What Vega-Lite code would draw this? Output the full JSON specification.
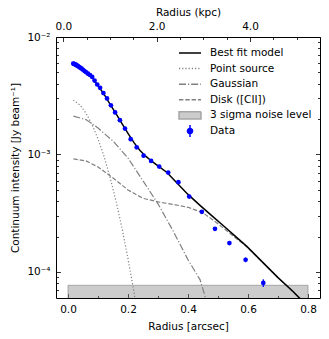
{
  "$schema": "https://vega.github.io/schema/vega-lite/v6.json",
  "width": 264,
  "height": 261,
  "autosize": "none",
  "padding": {"left": 56, "top": 37, "right": 9, "bottom": 41},
  "background": "white",
  "config": {
    "font": "DejaVu Sans",
    "view": {"stroke": "black", "strokeWidth": 1},
    "axis": {"domain": false, "grid": false, "labelFont": "DejaVu Sans", "labelFontSize": 10.5, "labelColor": "black", "titleFont": "DejaVu Sans", "titleFontSize": 10.5, "titleFontWeight": "normal", "titleColor": "black", "tickColor": "black", "tickWidth": 0.8, "labelOverlap": false, "labelBound": false, "labelFlush": false},
    "legend": {"orient": "none", "legendX": 122, "legendY": 10, "symbolSize": 484, "symbolStrokeWidth": 1.5, "labelFont": "DejaVu Sans", "labelFontSize": 10.5, "labelColor": "black", "labelOffset": 8, "rowPadding": 3.6, "padding": 0, "clipHeight": 12}
  },
  "datasets": {
    "noise": [{"r": 0, "r2": 0.8, "I": 1e-5, "I2": 7.7e-5}],
    "legendrows": [
      {"series": "Best fit model", "r": -1, "I": 0.001},
      {"series": "Point source", "r": -1, "I": 0.001},
      {"series": "Gaussian", "r": -1, "I": 0.001},
      {"series": "Disk ([CII])", "r": -1, "I": 0.001},
      {"series": "3 sigma noise level", "r": -1, "I": 0.001},
      {"series": "Data", "r": -1, "I": 0.001}
    ],
    "pts": [
      {"r": 0.0175, "I": 5.94e-3, "lo": 5.934e-3, "hi": 5.946e-3},
      {"r": 0.0193, "I": 5.92e-3, "lo": 5.914e-3, "hi": 5.926e-3},
      {"r": 0.0212, "I": 5.89e-3, "lo": 5.884e-3, "hi": 5.896e-3},
      {"r": 0.0233, "I": 5.85e-3, "lo": 5.844e-3, "hi": 5.856e-3},
      {"r": 0.0257, "I": 5.81e-3, "lo": 5.804e-3, "hi": 5.816e-3},
      {"r": 0.0283, "I": 5.75e-3, "lo": 5.744e-3, "hi": 5.756e-3},
      {"r": 0.031, "I": 5.70e-3, "lo": 5.694e-3, "hi": 5.706e-3},
      {"r": 0.0342, "I": 5.63e-3, "lo": 5.624e-3, "hi": 5.636e-3},
      {"r": 0.0376, "I": 5.55e-3, "lo": 5.544e-3, "hi": 5.556e-3},
      {"r": 0.0414, "I": 5.46e-3, "lo": 5.454e-3, "hi": 5.466e-3},
      {"r": 0.0455, "I": 5.37e-3, "lo": 5.364e-3, "hi": 5.376e-3},
      {"r": 0.05, "I": 5.26e-3, "lo": 5.254e-3, "hi": 5.266e-3},
      {"r": 0.055, "I": 5.13e-3, "lo": 5.124e-3, "hi": 5.136e-3},
      {"r": 0.0605, "I": 5.01e-3, "lo": 5.004e-3, "hi": 5.016e-3},
      {"r": 0.0666, "I": 4.87e-3, "lo": 4.864e-3, "hi": 4.876e-3},
      {"r": 0.0733, "I": 4.75e-3, "lo": 4.744e-3, "hi": 4.756e-3},
      {"r": 0.0806, "I": 4.57e-3, "lo": 4.564e-3, "hi": 4.576e-3},
      {"r": 0.0886, "I": 4.26e-3, "lo": 4.254e-3, "hi": 4.266e-3},
      {"r": 0.0975, "I": 3.94e-3, "lo": 3.934e-3, "hi": 3.946e-3},
      {"r": 0.107, "I": 3.69e-3, "lo": 3.684e-3, "hi": 3.696e-3},
      {"r": 0.118, "I": 3.33e-3, "lo": 3.324e-3, "hi": 3.336e-3},
      {"r": 0.13, "I": 3.00e-3, "lo": 2.994e-3, "hi": 3.006e-3},
      {"r": 0.143, "I": 2.62e-3, "lo": 2.614e-3, "hi": 2.626e-3},
      {"r": 0.157, "I": 2.28e-3, "lo": 2.274e-3, "hi": 2.286e-3},
      {"r": 0.173, "I": 1.96e-3, "lo": 1.954e-3, "hi": 1.966e-3},
      {"r": 0.19, "I": 1.66e-3, "lo": 1.654e-3, "hi": 1.666e-3},
      {"r": 0.209, "I": 1.35e-3, "lo": 1.344e-3, "hi": 1.356e-3},
      {"r": 0.229, "I": 1.15e-3, "lo": 1.144e-3, "hi": 1.156e-3},
      {"r": 0.252, "I": 9.77e-4, "lo": 9.71e-4, "hi": 9.83e-4},
      {"r": 0.277, "I": 8.81e-4, "lo": 8.75e-4, "hi": 8.87e-4},
      {"r": 0.304, "I": 7.88e-4, "lo": 7.82e-4, "hi": 7.94e-4},
      {"r": 0.334, "I": 7.01e-4, "lo": 6.95e-4, "hi": 7.07e-4},
      {"r": 0.368, "I": 5.81e-4, "lo": 5.75e-4, "hi": 5.87e-4},
      {"r": 0.404, "I": 4.38e-4, "lo": 4.32e-4, "hi": 4.44e-4},
      {"r": 0.446, "I": 3.25e-4, "lo": 3.19e-4, "hi": 3.31e-4},
      {"r": 0.49, "I": 2.33e-4, "lo": 2.27e-4, "hi": 2.39e-4},
      {"r": 0.538, "I": 1.76e-4, "lo": 1.70e-4, "hi": 1.82e-4},
      {"r": 0.592, "I": 1.27e-4, "lo": 1.21e-4, "hi": 1.33e-4},
      {"r": 0.651, "I": 8.06e-5, "lo": 7.46e-5, "hi": 8.66e-5}
    ],
    "curves": [
      {"series": "Best fit model", "r": 0.018, "I": 5.94e-3},
      {"series": "Best fit model", "r": 0.04, "I": 5.51e-3},
      {"series": "Best fit model", "r": 0.06, "I": 5.02e-3},
      {"series": "Best fit model", "r": 0.08, "I": 4.55e-3},
      {"series": "Best fit model", "r": 0.1, "I": 3.85e-3},
      {"series": "Best fit model", "r": 0.12, "I": 3.26e-3},
      {"series": "Best fit model", "r": 0.14, "I": 2.68e-3},
      {"series": "Best fit model", "r": 0.16, "I": 2.23e-3},
      {"series": "Best fit model", "r": 0.18, "I": 1.83e-3},
      {"series": "Best fit model", "r": 0.2, "I": 1.51e-3},
      {"series": "Best fit model", "r": 0.22, "I": 1.26e-3},
      {"series": "Best fit model", "r": 0.24, "I": 1.081e-3},
      {"series": "Best fit model", "r": 0.26, "I": 9.62e-4},
      {"series": "Best fit model", "r": 0.28, "I": 8.72e-4},
      {"series": "Best fit model", "r": 0.3, "I": 7.99e-4},
      {"series": "Best fit model", "r": 0.33, "I": 7.03e-4},
      {"series": "Best fit model", "r": 0.36, "I": 5.84e-4},
      {"series": "Best fit model", "r": 0.4, "I": 4.57e-4},
      {"series": "Best fit model", "r": 0.44, "I": 3.69e-4},
      {"series": "Best fit model", "r": 0.48, "I": 3.00e-4},
      {"series": "Best fit model", "r": 0.52, "I": 2.45e-4},
      {"series": "Best fit model", "r": 0.56, "I": 1.99e-4},
      {"series": "Best fit model", "r": 0.596, "I": 1.65e-4},
      {"series": "Best fit model", "r": 0.65, "I": 1.20e-4},
      {"series": "Best fit model", "r": 0.7, "I": 8.95e-5},
      {"series": "Best fit model", "r": 0.75, "I": 6.81e-5},
      {"series": "Best fit model", "r": 0.79, "I": 5.38e-5},
      {"series": "Point source", "r": 0.018, "I": 2.90e-3},
      {"series": "Point source", "r": 0.04, "I": 2.63e-3},
      {"series": "Point source", "r": 0.06, "I": 2.25e-3},
      {"series": "Point source", "r": 0.08, "I": 1.80e-3},
      {"series": "Point source", "r": 0.1, "I": 1.36e-3},
      {"series": "Point source", "r": 0.12, "I": 9.65e-4},
      {"series": "Point source", "r": 0.14, "I": 6.42e-4},
      {"series": "Point source", "r": 0.16, "I": 4.01e-4},
      {"series": "Point source", "r": 0.18, "I": 2.36e-4},
      {"series": "Point source", "r": 0.2, "I": 1.30e-4},
      {"series": "Point source", "r": 0.22, "I": 6.73e-5},
      {"series": "Point source", "r": 0.24, "I": 3.28e-5},
      {"series": "Gaussian", "r": 0.018, "I": 2.12e-3},
      {"series": "Gaussian", "r": 0.06, "I": 1.98e-3},
      {"series": "Gaussian", "r": 0.1, "I": 1.68e-3},
      {"series": "Gaussian", "r": 0.15, "I": 1.30e-3},
      {"series": "Gaussian", "r": 0.2, "I": 9.33e-4},
      {"series": "Gaussian", "r": 0.25, "I": 5.96e-4},
      {"series": "Gaussian", "r": 0.3, "I": 3.80e-4},
      {"series": "Gaussian", "r": 0.35, "I": 2.24e-4},
      {"series": "Gaussian", "r": 0.4, "I": 1.27e-4},
      {"series": "Gaussian", "r": 0.44, "I": 8.61e-5},
      {"series": "Gaussian", "r": 0.46, "I": 5.82e-5},
      {"series": "Gaussian", "r": 0.47, "I": 4.8e-5},
      {"series": "Disk ([CII])", "r": 0.018, "I": 9.16e-4},
      {"series": "Disk ([CII])", "r": 0.06, "I": 8.81e-4},
      {"series": "Disk ([CII])", "r": 0.1, "I": 7.83e-4},
      {"series": "Disk ([CII])", "r": 0.15, "I": 6.31e-4},
      {"series": "Disk ([CII])", "r": 0.2, "I": 4.99e-4},
      {"series": "Disk ([CII])", "r": 0.25, "I": 4.23e-4},
      {"series": "Disk ([CII])", "r": 0.3, "I": 3.95e-4},
      {"series": "Disk ([CII])", "r": 0.35, "I": 3.76e-4},
      {"series": "Disk ([CII])", "r": 0.4, "I": 3.55e-4},
      {"series": "Disk ([CII])", "r": 0.45, "I": 3.19e-4},
      {"series": "Disk ([CII])", "r": 0.5, "I": 2.57e-4},
      {"series": "Disk ([CII])", "r": 0.55, "I": 2.03e-4},
      {"series": "Disk ([CII])", "r": 0.596, "I": 1.64e-4},
      {"series": "Disk ([CII])", "r": 0.65, "I": 1.20e-4},
      {"series": "Disk ([CII])", "r": 0.7, "I": 8.95e-5},
      {"series": "Disk ([CII])", "r": 0.75, "I": 6.81e-5},
      {"series": "Disk ([CII])", "r": 0.79, "I": 5.38e-5}
    ]
  },
  "layer": [
    {
      "encoding": {
        "x": {"field": "r", "type": "quantitative",
          "scale": {"domain": [-0.04, 0.84], "nice": false, "zero": false},
          "axis": {"title": "Radius [arcsec]", "values": [0, 0.1, 0.2, 0.3, 0.4, 0.5, 0.6, 0.7, 0.8],
            "labelExpr": "round(datum.value*10) % 2 == 0 ? format(datum.value, '.1f') : ''",
            "tickSize": {"condition": {"test": "round(datum.value*10) % 2 == 0", "value": -4.5}, "value": -2.5},
            "labelPadding": 11, "titlePadding": 4}},
        "y": {"field": "I", "type": "quantitative",
          "scale": {"type": "log", "domain": [6e-5, 0.01], "nice": false},
          "axis": {"title": "Continuum intensity [Jy beam⁻¹]",
            "values": [7e-5, 8e-5, 9e-5, 1e-4, 2e-4, 3e-4, 4e-4, 5e-4, 6e-4, 7e-4, 8e-4, 9e-4, 0.001, 0.002, 0.003, 0.004, 0.005, 0.006, 0.007, 0.008, 0.009, 0.01],
            "labelExpr": "datum.value == 0.01 ? '10⁻²' : datum.value == 0.001 ? '10⁻³' : datum.value == 0.0001 ? '10⁻⁴' : ''",
            "tickSize": {"condition": {"test": "datum.value == 0.01 || datum.value == 0.001 || datum.value == 0.0001", "value": -4.5}, "value": -2.5},
            "labelPadding": 10.5, "titlePadding": 6}}
      },
      "layer": [
        {"data": {"name": "noise"},
         "mark": {"type": "rect", "clip": true, "fill": "#808080", "fillOpacity": 0.4, "stroke": "#808080", "strokeOpacity": 0.6, "strokeWidth": 1},
         "encoding": {"x2": {"field": "r2"}, "y2": {"field": "I2"}}},
        {"data": {"name": "curves"}, "transform": [{"filter": "datum.series === 'Point source'"}],
         "mark": {"type": "line", "clip": true, "color": "#808080", "strokeWidth": 1.2, "strokeDash": [1.2, 2]}},
        {"data": {"name": "curves"}, "transform": [{"filter": "datum.series === 'Gaussian'"}],
         "mark": {"type": "line", "clip": true, "color": "#808080", "strokeWidth": 1.2, "strokeDash": [7, 2, 1.2, 2]}},
        {"data": {"name": "curves"}, "transform": [{"filter": "datum.series === 'Disk ([CII])'"}],
         "mark": {"type": "line", "clip": true, "color": "#808080", "strokeWidth": 1.2, "strokeDash": [4.4, 1.9]}},
        {"data": {"name": "curves"}, "transform": [{"filter": "datum.series === 'Best fit model'"}],
         "mark": {"type": "line", "clip": true, "color": "black", "strokeWidth": 1.5}},
        {"data": {"name": "pts"},
         "mark": {"type": "rule", "clip": true, "color": "blue", "strokeWidth": 1.2},
         "encoding": {"y": {"field": "lo", "type": "quantitative"}, "y2": {"field": "hi"}}},
        {"data": {"name": "pts"},
         "mark": {"type": "point", "filled": true, "shape": "circle", "color": "blue", "size": 22, "opacity": 1, "strokeWidth": 0, "clip": true}},
        {"data": {"name": "legendrows"},
         "mark": {"type": "point", "clip": true, "opacity": 1},
         "encoding": {
           "fill": {"field": "series", "type": "nominal", "legend": {"title": null},
             "scale": {"domain": ["Best fit model", "Point source", "Gaussian", "Disk ([CII])", "3 sigma noise level", "Data"], "range": ["transparent", "transparent", "transparent", "transparent", "#cccccc", "blue"]}},
           "stroke": {"field": "series", "type": "nominal", "legend": {"title": null},
             "scale": {"domain": ["Best fit model", "Point source", "Gaussian", "Disk ([CII])", "3 sigma noise level", "Data"], "range": ["black", "#808080", "#808080", "#808080", "#a6a6a6", "blue"]}},
           "shape": {"field": "series", "type": "nominal", "legend": {"title": null},
             "scale": {"domain": ["Best fit model", "Point source", "Gaussian", "Disk ([CII])", "3 sigma noise level", "Data"], "range": ["stroke", "stroke", "stroke", "stroke", "M-1,-0.33L1,-0.33L1,0.33L-1,0.33Z", "M0,-0.55L0,0.55M0.23,0A0.23,0.23,0,1,1,-0.23,0A0.23,0.23,0,1,1,0.23,0Z"]}},
           "strokeDash": {"field": "series", "type": "nominal", "legend": {"title": null},
             "scale": {"domain": ["Best fit model", "Point source", "Gaussian", "Disk ([CII])", "3 sigma noise level", "Data"], "range": [[1, 0], [1.2, 2], [7, 2, 1.2, 2], [4.4, 1.9], [1, 0], [1, 0]]}}
         }}
      ]
    },
    {
      "data": {"values": [{"kpc": 0, "I": 0.001}]},
      "mark": {"type": "point", "opacity": 0},
      "encoding": {
        "x": {"field": "kpc", "type": "quantitative",
          "scale": {"domain": [-0.157, 5.5], "nice": false, "zero": false},
          "axis": {"orient": "top", "title": "Radius (kpc)", "values": [0, 0.5, 1, 1.5, 2, 2.5, 3, 3.5, 4, 4.5, 5],
            "labelExpr": "datum.value % 2 == 0 ? format(datum.value, '.1f') : ''",
            "tickSize": {"condition": {"test": "datum.value % 2 == 0", "value": -4.5}, "value": -2.5},
            "labelPadding": 10, "titlePadding": 2}},
        "y": {"field": "I", "type": "quantitative",
          "scale": {"type": "log", "domain": [6e-5, 0.01], "nice": false},
          "axis": {"orient": "right", "labels": false, "title": null,
            "values": [7e-5, 8e-5, 9e-5, 1e-4, 2e-4, 3e-4, 4e-4, 5e-4, 6e-4, 7e-4, 8e-4, 9e-4, 0.001, 0.002, 0.003, 0.004, 0.005, 0.006, 0.007, 0.008, 0.009, 0.01],
            "tickSize": {"condition": {"test": "datum.value == 0.01 || datum.value == 0.001 || datum.value == 0.0001", "value": -4.5}, "value": -2.5}}}
      }
    }
  ],
  "resolve": {"scale": {"x": "independent"}, "axis": {"x": "independent", "y": "independent"}}
}
